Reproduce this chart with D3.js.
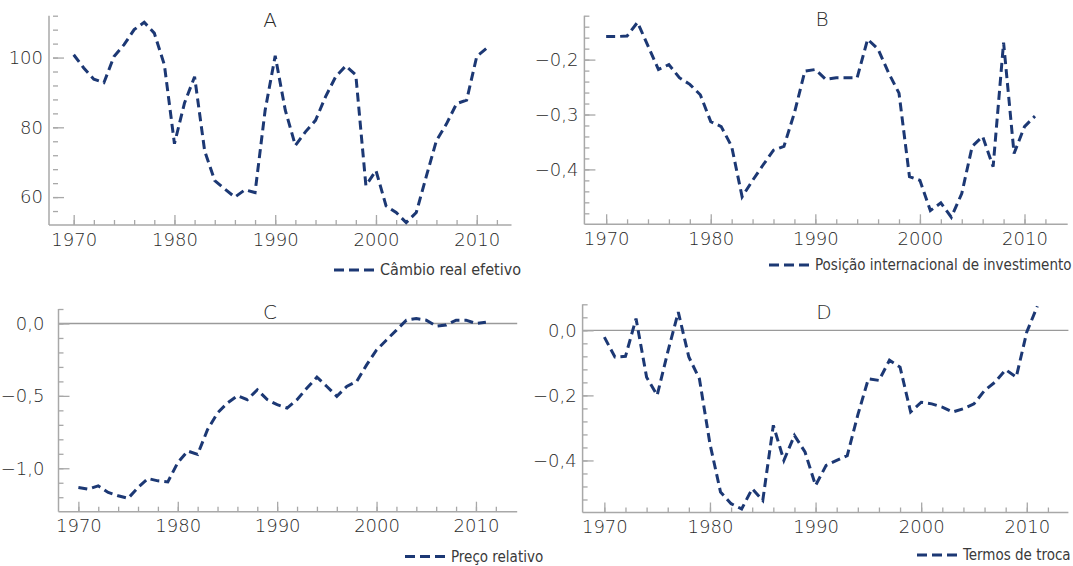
<!DOCTYPE html>
<html>
<head>
<meta charset="utf-8">
<script src="https://cdn.jsdelivr.net/npm/d3@7/dist/d3.min.js"></script>
<style>
  body { margin: 0; background: #fff; }
  svg { display: block; }
</style>
</head>
<body>
<script>
// chart data, one value per year
var years = [1970, 1971, 1972, 1973, 1974, 1975, 1976, 1977, 1978, 1979,
             1980, 1981, 1982, 1983, 1984, 1985, 1986, 1987, 1988, 1989,
             1990, 1991, 1992, 1993, 1994, 1995, 1996, 1997, 1998, 1999,
             2000, 2001, 2002, 2003, 2004, 2005, 2006, 2007, 2008, 2009,
             2010, 2011];

var cambioReal = [100.8, 97.0, 93.8, 92.8, 100.3, 103.7, 108.0, 110.1, 107.0, 97.9,
                  75.3, 87.0, 94.5, 73.2, 64.7, 62.3, 60.0, 62.1, 61.3, 84.9,
                  100.5, 84.9, 74.8, 78.7, 82.0, 88.8, 94.5, 97.6, 95.0, 63.3,
                  67.6, 57.5, 55.6, 52.7, 55.6, 66.0, 76.2, 81.0, 86.8, 87.8,
                  100.3, 102.7];

var posicaoInvest = [-0.158, -0.158, -0.157, -0.132, -0.175, -0.218, -0.209, -0.233, -0.245, -0.264,
                     -0.313, -0.322, -0.358, -0.450, -0.420, -0.392, -0.365, -0.358, -0.297, -0.221,
                     -0.218, -0.236, -0.233, -0.233, -0.233, -0.163, -0.181, -0.224, -0.261, -0.413,
                     -0.420, -0.475, -0.461, -0.487, -0.444, -0.358, -0.340, -0.395, -0.169, -0.371,
                     -0.322, -0.303];

var precoRelativo = [-1.133, -1.144, -1.121, -1.167, -1.190, -1.208, -1.133, -1.071, -1.087, -1.094,
                     -0.961, -0.881, -0.904, -0.732, -0.618, -0.549, -0.499, -0.526, -0.458, -0.526,
                     -0.561, -0.584, -0.526, -0.446, -0.371, -0.435, -0.503, -0.435, -0.400, -0.286,
                     -0.183, -0.114, -0.046, 0.023, 0.034, 0.023, -0.018, -0.011, 0.023, 0.023,
                     0.000, 0.009];

var termosTroca = [-0.021, -0.082, -0.080, 0.036, -0.144, -0.200, -0.067, 0.056, -0.082, -0.149,
                   -0.349, -0.497, -0.533, -0.549, -0.487, -0.523, -0.292, -0.400, -0.323, -0.374,
                   -0.477, -0.415, -0.400, -0.385, -0.260, -0.149, -0.154, -0.092, -0.113, -0.251,
                   -0.221, -0.226, -0.236, -0.251, -0.241, -0.226, -0.185, -0.159, -0.121, -0.144,
                   -0.005, 0.074];

var xTickLabels = [1970, 1980, 1990, 2000, 2010];
var yLabelsA = [60, 80, 100];
var yLabelsB = [-0.4, -0.3, -0.2];
var yLabelsC = [-1.0, -0.5, 0.0];
var yLabelsD = [-0.4, -0.2, 0.0];

var W = 1073, H = 566;
var lineColor = "#1c3874";
var axisColor = "#a8a8a8";
var textColor = "#2a2a2a";
var tickFont = "'DejaVu Sans', sans-serif";
var legFont = "'DejaVu Sans Condensed', 'DejaVu Sans', sans-serif";

var svg = d3.select("body").append("svg")
    .attr("width", W)
    .attr("height", H);

function fmtDec(v) {
  return d3.format(".1f")(v).replace("-", "\u2212").replace(".", ",");
}

function drawPanel(p) {
  var x = d3.scaleLinear().domain(p.xDom).range([p.left, p.right]);
  var y = d3.scaleLinear().domain(p.yDom).range([p.bottom, p.top]);
  var g = svg.append("g");

  // zero line
  if (p.zero) {
    g.append("line")
      .attr("x1", p.left).attr("x2", p.right)
      .attr("y1", y(0)).attr("y2", y(0))
      .style("stroke", "#9a9a9a")
      .style("stroke-width", 1.3);
  }

  // y ticks (inside, to the right)
  var yMinor = d3.range(p.yDom[0] + p.yStep, p.yDom[1] + p.yStep / 2, p.yStep);
  var gy = g.append("g").attr("transform", "translate(" + (p.left + p.gap) + ",0)");
  gy.call(d3.axisRight(y).tickValues(yMinor).tickSize(5).tickFormat(""));
  gy.append("g").call(d3.axisRight(y).tickValues(p.yLabels).tickSize(11).tickFormat(""));
  gy.selectAll(".domain").remove();

  // y labels
  var gyl = g.append("g").attr("transform", "translate(" + p.left + ",0)")
    .call(d3.axisLeft(y).tickValues(p.yLabels).tickSize(0).tickPadding(p.pad).tickFormat(p.fmt));
  gyl.selectAll(".domain").remove();

  // x ticks (upward from axis)
  var xMinor = d3.range(1970, 2013, 2);
  var gx = g.append("g").attr("transform", "translate(0," + p.bottom + ")");
  gx.call(d3.axisTop(x).tickValues(xMinor).tickSize(5).tickFormat(""));
  gx.append("g").call(d3.axisTop(x).tickValues(xTickLabels).tickSize(10).tickFormat(""));
  gx.selectAll(".domain").remove();

  var gxl = g.append("g").attr("transform", "translate(0," + p.bottom + ")")
    .call(d3.axisBottom(x).tickValues(xTickLabels).tickSize(0).tickPadding(8).tickFormat(d3.format("d")));
  gxl.selectAll(".domain").remove();

  g.selectAll(".tick line").style("stroke", axisColor).style("stroke-width", 1.3);
  g.selectAll(".tick text")
    .style("font-family", tickFont)
    .style("font-weight", 200)
    .style("font-size", "18px")
    .style("fill", textColor);

  // axis lines
  g.append("line")
    .attr("x1", p.left).attr("x2", p.left)
    .attr("y1", p.top).attr("y2", p.bottom)
    .style("stroke", axisColor).style("stroke-width", 1.5);
  g.append("line")
    .attr("x1", p.left).attr("x2", p.right)
    .attr("y1", p.bottom).attr("y2", p.bottom)
    .style("stroke", axisColor).style("stroke-width", 1.5);

  // series
  var line = d3.line()
    .x(function(d, i) { return x(years[i]); })
    .y(function(d) { return y(d); });
  g.append("path")
    .datum(p.values)
    .attr("d", line)
    .style("fill", "none")
    .style("stroke", lineColor)
    .style("stroke-width", 3)
    .style("stroke-dasharray", "9,5");

  // title
  g.append("text")
    .attr("x", p.titleX).attr("y", p.titleY)
    .attr("text-anchor", "middle")
    .style("font-family", tickFont)
    .style("font-weight", 200)
    .style("font-size", "20px")
    .style("fill", textColor)
    .text(p.title);

  // legend
  g.append("line")
    .attr("x1", p.legX).attr("x2", p.legX + 40)
    .attr("y1", p.legY).attr("y2", p.legY)
    .style("stroke", lineColor)
    .style("stroke-width", 3)
    .style("stroke-dasharray", "10,5");
  g.append("text")
    .attr("x", p.legX + 46).attr("y", p.legY + 5)
    .style("font-family", legFont)
    .style("font-size", p.legSize + "px")
    .style("fill", "#3a3a3a")
    .text(p.legend);
}

drawPanel({
  title: "A", titleX: 270, titleY: 27,
  left: 49, right: 511.5, top: 15.7, bottom: 225, gap: 4, pad: 6,
  xDom: [1967.55, 2013.45], yDom: [52, 112], yStep: 4,
  yLabels: yLabelsA, fmt: d3.format("d"),
  values: cambioReal,
  legend: "C\u00e2mbio real efetivo", legX: 334, legY: 270, legSize: 16
});

drawPanel({
  title: "B", titleX: 822, titleY: 25.5,
  left: 584.4, right: 1067.7, top: 15.7, bottom: 224.3, gap: 0, pad: 6,
  xDom: [1967.92, 2014.13], yDom: [-0.5, -0.12], yStep: 0.02,
  yLabels: yLabelsB, fmt: fmtDec,
  values: posicaoInvest,
  legend: "Posi\u00e7\u00e3o internacional de investimento", legX: 769, legY: 265, legSize: 15
});

drawPanel({
  title: "C", titleX: 270, titleY: 318.5,
  left: 58.5, right: 517.2, top: 309, bottom: 511.7, gap: 0, pad: 14, zero: true,
  xDom: [1968.0, 2014.15], yDom: [-1.3, 0.1], yStep: 0.1,
  yLabels: yLabelsC, fmt: fmtDec,
  values: precoRelativo,
  legend: "Pre\u00e7o relativo", legX: 405, legY: 556.5, legSize: 15
});

drawPanel({
  title: "D", titleX: 824, titleY: 318.5,
  left: 582.6, right: 1068.4, top: 304.3, bottom: 512.5, gap: 0, pad: 6, zero: true,
  xDom: [1967.94, 2013.94], yDom: [-0.56, 0.08], yStep: 0.04,
  yLabels: yLabelsD, fmt: fmtDec,
  values: termosTroca,
  legend: "Termos de troca", legX: 917, legY: 555, legSize: 15
});
</script>
</body>
</html>
